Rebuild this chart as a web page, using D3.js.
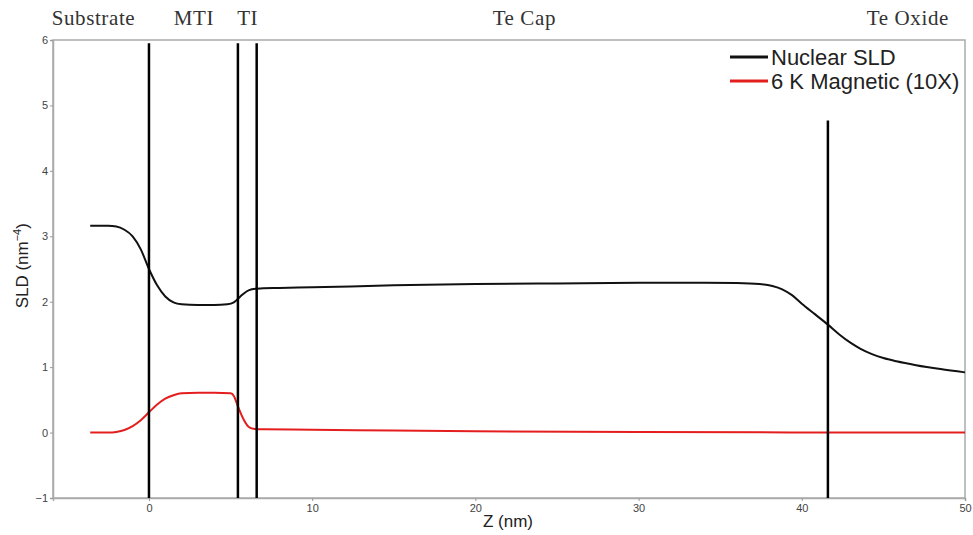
<!DOCTYPE html>
<html>
<head>
<meta charset="utf-8">
<script src="https://cdn.jsdelivr.net/npm/d3@7"></script>
<style>
  body { margin: 0; background: #fff; }
  .tick text { font-family: "Liberation Sans", Arial, sans-serif; font-size: 11px; fill: #444; }
  .tick line { stroke: #999; }
  .domain { stroke: #aaa; }
</style>
</head>
<body>
<script>
// nuclear SLD profile
const nucZ = [-3.6, -2.5, -2, -1.5, -1, -0.5, 0, 0.5, 1, 1.5, 2, 3, 4, 4.8, 5.2, 5.6, 6, 6.3, 6.6, 8, 10, 15, 20, 25, 30, 34, 36, 37.4, 38.2, 38.8, 39.4, 40, 40.8, 41.6, 42.3, 43, 43.6, 44.3, 45, 45.8, 47, 48.5, 50];
const nucSLD = [3.16, 3.16, 3.15, 3.1, 3.0, 2.8, 2.5, 2.25, 2.08, 1.99, 1.96, 1.95, 1.95, 1.96, 1.99, 2.08, 2.16, 2.19, 2.2, 2.21, 2.22, 2.25, 2.27, 2.28, 2.29, 2.29, 2.285, 2.27, 2.24, 2.19, 2.1, 1.97, 1.81, 1.65, 1.5, 1.37, 1.28, 1.2, 1.14, 1.09, 1.03, 0.97, 0.92];

// 6 K magnetic profile (x10)
const magZ = [-3.6, -2.5, -2, -1.5, -1, -0.5, 0, 0.5, 1, 1.5, 2, 3, 4, 5, 5.2, 5.45, 5.8, 6.1, 6.4, 7, 10, 15, 20, 30, 40, 50];
const magSLD = [0, 0, 0.01, 0.04, 0.1, 0.19, 0.31, 0.43, 0.52, 0.57, 0.6, 0.61, 0.61, 0.6, 0.56, 0.4, 0.2, 0.09, 0.06, 0.05, 0.045, 0.03, 0.02, 0.007, 0.002, 0];

// interface markers
const ifaceZ = [0, 5.45, 6.6, 41.6];
const ifaceTop = [5.95, 5.95, 5.95, 4.77];

// layer names above the plot
const layerNames = ["Substrate", "MTI", "TI", "Te Cap", "Te Oxide"];
const layerZ = [-3.4, 2.75, 6.05, 23.0, 46.5];

const yTicks = [-1, 0, 1, 2, 3, 4, 5, 6];
const xTicks = [0, 10, 20, 30, 40, 50];

const W = 973, H = 535;
const m = { left: 53, right: 8, top: 40, bottom: 37 };

const svg = d3.select("body").append("svg")
  .attr("width", W)
  .attr("height", H);

const x = d3.scaleLinear().domain([-5.88, 50]).range([m.left, W - m.right]);
const y = d3.scaleLinear().domain([-1, 6]).range([H - m.bottom, m.top]);

// frame
svg.append("rect")
  .attr("x", x.range()[0]).attr("y", y(6))
  .attr("width", x.range()[1] - x.range()[0])
  .attr("height", y(-1) - y(6))
  .attr("fill", "none").attr("stroke", "#aaa").attr("stroke-width", 1.5);

svg.append("g")
  .attr("transform", "translate(0," + y(-1) + ")")
  .call(d3.axisBottom(x).tickValues(xTicks).tickSize(3).tickPadding(3).tickFormat(d3.format("d")))
  .call(g => g.select(".domain").attr("stroke-width", 1.5));

svg.append("g")
  .attr("transform", "translate(" + x.range()[0] + ",0)")
  .call(d3.axisLeft(y).tickValues(yTicks).tickSize(3).tickPadding(2).tickFormat(d => d < 0 ? "\u2212" + Math.abs(d) : d))
  .call(g => g.select(".domain").attr("stroke-width", 1.5));

const line = d3.line()
  .x(d => x(d[0]))
  .y(d => y(d[1]))
  .curve(d3.curveMonotoneX);

svg.append("path")
  .datum(d3.zip(nucZ, nucSLD))
  .attr("d", line)
  .attr("fill", "none").attr("stroke", "#111").attr("stroke-width", 2);

svg.append("path")
  .datum(d3.zip(magZ, magSLD))
  .attr("d", line)
  .attr("fill", "none").attr("stroke", "#e41e1e").attr("stroke-width", 2);

svg.selectAll(".iface")
  .data(d3.zip(ifaceZ, ifaceTop))
  .enter().append("line")
  .attr("class", "iface")
  .attr("x1", d => x(d[0])).attr("x2", d => x(d[0]))
  .attr("y1", d => y(d[1])).attr("y2", y(-1))
  .attr("stroke", "#000").attr("stroke-width", 2.5);

svg.selectAll(".layer")
  .data(d3.zip(layerNames, layerZ))
  .enter().append("text")
  .attr("class", "layer")
  .attr("x", d => x(d[1])).attr("y", 25)
  .attr("text-anchor", "middle")
  .style("font-family", "'Liberation Serif', 'DejaVu Serif', serif")
  .style("font-size", "21px")
  .style("letter-spacing", "0.6px")
  .attr("fill", "#333")
  .text(d => d[0]);

// legend
const legend = [["Nuclear SLD", "#111"], ["6 K Magnetic (10X)", "#e41e1e"]];
const lg = svg.selectAll(".lg").data(legend).enter().append("g")
  .attr("transform", (d, i) => "translate(730," + (57 + i * 24) + ")");
lg.append("line").attr("x1", 0).attr("x2", 38)
  .attr("stroke", d => d[1]).attr("stroke-width", 3);
lg.append("text").attr("x", 41).attr("dy", "0.35em")
  .style("font-family", "'Liberation Sans', Arial, sans-serif")
  .style("font-size", "22px").attr("fill", "#222")
  .text(d => d[0]);

// axis titles
svg.append("text")
  .attr("transform", "translate(28," + y(2.55) + ") rotate(-90)")
  .attr("text-anchor", "middle")
  .style("font-family", "'Liberation Sans', Arial, sans-serif")
  .style("font-size", "17px").attr("fill", "#222")
  .html("SLD (nm<tspan dy='-7' font-size='11px'>\u22124</tspan><tspan dy='7'>)</tspan>");

svg.append("text")
  .attr("x", x(22)).attr("y", 527)
  .attr("text-anchor", "middle")
  .style("font-family", "'Liberation Sans', Arial, sans-serif")
  .style("font-size", "17px").attr("fill", "#222")
  .text("Z (nm)");
</script>
</body>
</html>
